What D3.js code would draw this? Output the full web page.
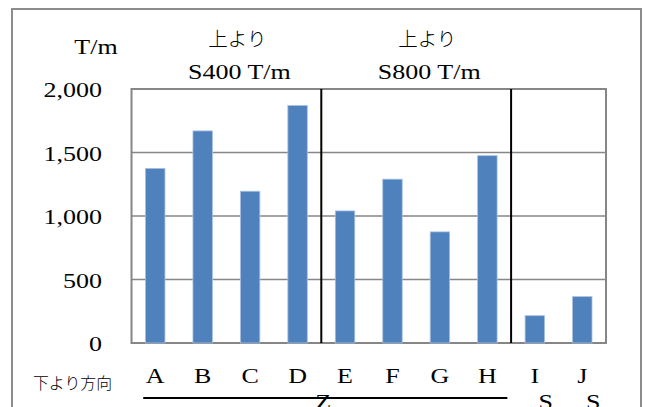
<!DOCTYPE html>
<html>
<head>
<meta charset="utf-8">
<script src="https://cdn.jsdelivr.net/npm/d3@7"></script>
<style>
  html, body { margin: 0; padding: 0; background: #fff; }
  svg { display: block; }
</style>
</head>
<body>
<svg id="chart" width="646" height="407"></svg>
<script>
// Load per metre for each member, grouped by loading direction
const categories = ["A", "B", "C", "D", "E", "F", "G", "H", "I", "J"];
const values = [1375, 1670, 1195, 1870, 1040, 1290, 875, 1475, 215, 365];
const yTicks = [0, 500, 1000, 1500, 2000];
const groupTitles = [
  { top: "上より", bottom: "S400 T/m", from: 0, to: 3 },
  { top: "上より", bottom: "S800 T/m", from: 4, to: 7 }
];
const separatorsAfter = ["D", "H"];
const bottomMarks = [
  { text: "Z", from: "A", to: "H" },
  { text: "S", at: "I" },
  { text: "S", at: "J" }
];

const svg = d3.select("#chart");
const serif = "'Liberation Serif', 'Times New Roman', serif";
const cjk = "'Noto Sans CJK JP', sans-serif";
const stretch = 1.3;

const plot = { left: 131.5, right: 606, top: 89, bottom: 343 };

const x = d3.scaleBand().domain(categories).range([plot.left, plot.right]).padding(0);
const y = d3.scaleLinear().domain([0, 2000]).range([plot.bottom, plot.top]);

// Horizontally stretched serif text helper
function label(parent, px, py, text, anchor, size) {
  parent.append("g")
    .attr("transform", `translate(${px},${py}) scale(${stretch},1)`)
    .append("text")
    .attr("text-anchor", anchor)
    .attr("font-family", serif)
    .attr("font-size", size || 20)
    .attr("fill", "#000")
    .text(text);
}

// Outer frame
svg.append("rect")
  .attr("x", 12).attr("y", 9)
  .attr("width", 629).attr("height", 420)
  .attr("fill", "#fff")
  .attr("stroke", "#8c8c8c")
  .attr("stroke-width", 2);

// Gridlines
svg.append("g")
  .selectAll("line")
  .data(yTicks)
  .join("line")
  .attr("x1", plot.left).attr("x2", plot.right)
  .attr("y1", d => y(d)).attr("y2", d => y(d))
  .attr("stroke", "#868686")
  .attr("stroke-width", 1.6);

// Plot border
svg.append("rect")
  .attr("x", plot.left).attr("y", plot.top)
  .attr("width", plot.right - plot.left)
  .attr("height", plot.bottom - plot.top)
  .attr("fill", "none")
  .attr("stroke", "#868686")
  .attr("stroke-width", 2);

// Bars
const barW = x.bandwidth() * 0.41;
svg.append("g")
  .selectAll("rect")
  .data(categories.map((c, i) => ({ c, v: values[i] })))
  .join("rect")
  .attr("x", d => x(d.c) + (x.bandwidth() - barW) / 2)
  .attr("y", d => y(d.v))
  .attr("width", barW)
  .attr("height", d => y(0) - y(d.v))
  .attr("fill", "#4f81bd")
  .attr("stroke", "#a9c1e0")
  .attr("stroke-width", 0.8);

// Group separators
svg.append("g")
  .selectAll("line")
  .data(separatorsAfter)
  .join("line")
  .attr("x1", d => x(d) + x.bandwidth())
  .attr("x2", d => x(d) + x.bandwidth())
  .attr("y1", plot.top).attr("y2", plot.bottom)
  .attr("stroke", "#000")
  .attr("stroke-width", 2);

// Y axis tick labels
const yAxis = svg.append("g");
yTicks.forEach(t => label(yAxis, 102, y(t) + 8, d3.format(",")(t), "end"));

// Y unit
label(svg, 96, 53.5, "T/m", "middle");

// Group titles
groupTitles.forEach(g => {
  const cx = (x(categories[g.from]) + x(categories[g.to]) + x.bandwidth()) / 2 + 12;
  svg.append("text")
    .attr("x", cx - 1).attr("y", 45.5)
    .attr("text-anchor", "middle")
    .attr("font-family", cjk)
    .attr("font-weight", 300)
    .attr("font-size", 19.5)
    .text(g.top);
  label(svg, cx + 1, 78.5, g.bottom, "middle");
});

// Category labels
const xAxis = svg.append("g");
categories.forEach(c => label(xAxis, x(c) + x.bandwidth() / 2, 383, c, "middle"));

// Direction label
svg.append("text")
  .attr("x", 33).attr("y", 388.5)
  .attr("font-family", cjk)
  .attr("font-weight", 300)
  .attr("font-size", 15.5)
  .attr("textLength", 79)
  .attr("lengthAdjust", "spacingAndGlyphs")
  .text("下より方向");

// Bottom group markers
bottomMarks.forEach(m => {
  if (m.from) {
    const x1 = x(m.from) + x.bandwidth() / 2 - 12;
    const x2 = x(m.to) + x.bandwidth() / 2 + 20;
    svg.append("line")
      .attr("x1", x1).attr("x2", x2)
      .attr("y1", 398).attr("y2", 398)
      .attr("stroke", "#000")
      .attr("stroke-width", 2);
    label(svg, x(m.to) + x.bandwidth() - (x(m.to) - x(m.from)) / 2 - x.bandwidth() / 2 + 2, 409, m.text, "middle");
  } else {
    label(svg, x(m.at) + x.bandwidth() / 2 + 11, 409, m.text, "middle");
  }
});
</script>
</body>
</html>
